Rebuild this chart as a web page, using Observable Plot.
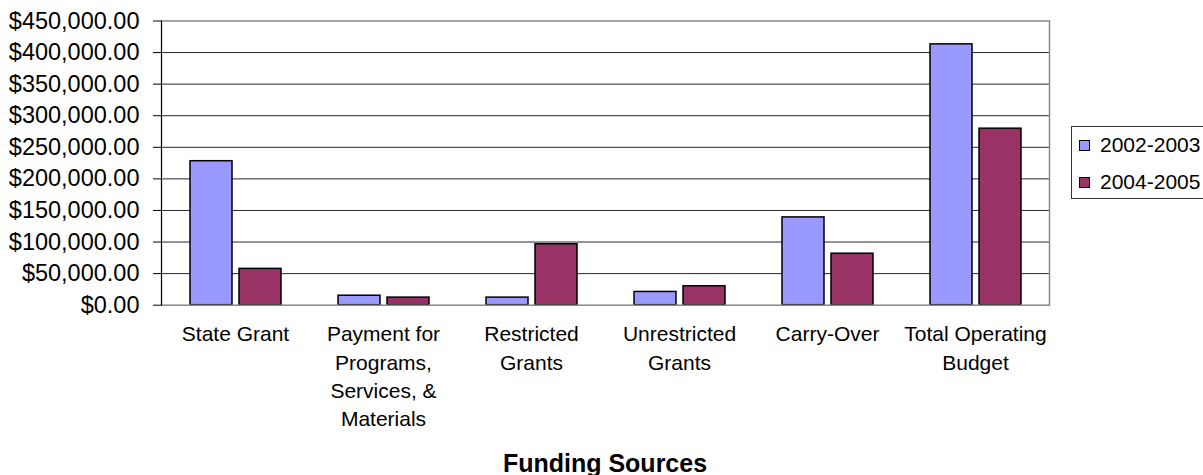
<!DOCTYPE html>
<html>
<head>
<meta charset="utf-8">
<script src="https://cdn.jsdelivr.net/npm/d3@7"></script>
<script src="https://cdn.jsdelivr.net/npm/@observablehq/plot@0.6"></script>
<style>
  html, body { margin: 0; padding: 0; background: #fff; overflow: hidden; }
  #wrap { position: relative; width: 1203px; height: 475px; font-family: "Liberation Sans", Arial, sans-serif; }
  #legend { position: absolute; left: 1071px; top: 126px; width: 150px; height: 73px; border: 1px solid #333; box-sizing: border-box; background: #fff; }
  .row { position: absolute; left: 7px; height: 24px; display: flex; align-items: center; font-size: 21px; color: #000; }
  .sw { width: 9px; height: 9px; border: 1.5px solid #000; margin-right: 10px; }
  #caption { position: absolute; left: 160px; width: 890px; top: 451px; text-align: center; font-weight: bold; font-size: 25px; line-height: 24px; }
</style>
</head>
<body>
<div id="wrap"></div>
<script>
const categories = ["State Grant", "Payment for Programs, Services, & Materials", "Restricted Grants", "Unrestricted Grants", "Carry-Over", "Total Operating Budget"];
const tickLabels = ["State Grant", "Payment for\nPrograms,\nServices, &\nMaterials", "Restricted\nGrants", "Unrestricted\nGrants", "Carry-Over", "Total Operating\nBudget"];
const series = ["2002-2003", "2004-2005"];
const values2002 = [228000, 15000, 12000, 21000, 139000, 413000];
const values2004 = [57500, 12000, 96500, 30000, 81500, 279500];
const colors = ["#9999FF", "#993366"];
const yTicks = [0, 50000, 100000, 150000, 200000, 250000, 300000, 350000, 400000, 450000];
const xTitle = "Funding Sources";

const data = [];
categories.forEach((c, i) => {
  data.push({category: c, series: series[0], value: values2002[i]});
  data.push({category: c, series: series[1], value: values2004[i]});
});

const fmt = d3.format(",.2f");

const chart = Plot.plot({
  width: 1203,
  height: 475,
  marginLeft: 160,
  marginRight: 153,
  marginTop: 20.5,
  marginBottom: 170.3,
  style: {fontFamily: "'Liberation Sans', Arial, sans-serif", fontSize: "21px", color: "#000", background: "#fff"},
  fx: {domain: categories, padding: 0, label: null},
  x: {domain: series, paddingInner: 0.15, paddingOuter: 0.558, axis: null},
  y: {domain: [0, 450000], label: null},
  color: {domain: series, range: colors},
  marks: [
    Plot.gridY(yTicks.slice(1, -1), {stroke: "#000", strokeOpacity: 0.85}),
    Plot.barY(data, {fx: "category", x: "series", y: "value", fill: "series", stroke: "#000", strokeWidth: 1.5}),
    Plot.frame({stroke: "#888", strokeWidth: 1.5, facet: "super"}),
    Plot.frame({anchor: "left", stroke: "#000", strokeWidth: 1, facet: "super"}),
    Plot.axisY({ticks: yTicks, tickFormat: d => "$" + fmt(d), tickSize: 8, tickPadding: 14, fontSize: 23.5, label: null, stroke: "#000"}),
    Plot.axisFx({anchor: "bottom", tickSize: 0, tickPadding: 16, lineHeight: 1.35, fontSize: 21, label: null,
      tickFormat: d => tickLabels[categories.indexOf(d)]})
  ]
});

const wrap = document.getElementById("wrap");
wrap.appendChild(chart);

const legend = document.createElement("div");
legend.id = "legend";
series.forEach((s, i) => {
  const row = document.createElement("div");
  row.className = "row";
  row.style.top = (i === 0 ? 6 : 43) + "px";
  const sw = document.createElement("div");
  sw.className = "sw";
  sw.style.background = colors[i];
  row.appendChild(sw);
  const t = document.createElement("span");
  t.textContent = s;
  row.appendChild(t);
  legend.appendChild(row);
});
wrap.appendChild(legend);

const cap = document.createElement("div");
cap.id = "caption";
cap.textContent = xTitle;
wrap.appendChild(cap);
</script>
</body>
</html>
